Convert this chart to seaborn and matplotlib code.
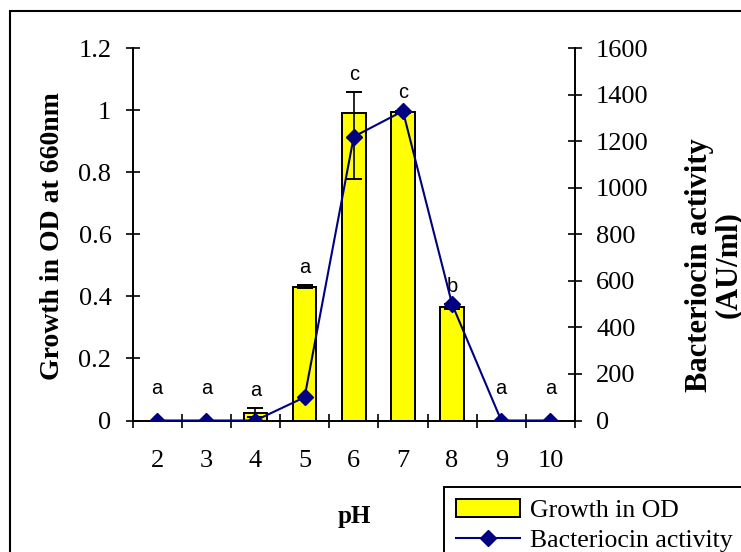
import matplotlib
matplotlib.use("Agg")
import matplotlib.pyplot as plt
from matplotlib.ticker import FixedLocator, FuncFormatter
from matplotlib.patches import Rectangle, Patch
from matplotlib.lines import Line2D
import seaborn as sns
import numpy as np
import pandas as pd

# pH series and measurements
ph = ["2", "3", "4", "5", "6", "7", "8", "9", "10"]
growth_od = [0, 0, 0.025, 0.431, 0.99, 0.995, 0.367, 0, 0]
growth_err_low = [0, 0, 0.015, 0.005, 0.21, 0.004, 0.008, 0, 0]
growth_err_high = [0, 0, 0.015, 0.005, 0.069, 0.004, 0.008, 0, 0]
activity = [0, 0, 0, 100, 1220, 1330, 500, 0, 0]
groups = ["a", "a", "a", "a", "c", "c", "b", "a", "a"]

od_ticks = [0, 0.2, 0.4, 0.6, 0.8, 1.0, 1.2]
act_ticks = [0, 200, 400, 600, 800, 1000, 1200, 1400, 1600]

serif = ["Liberation Serif", "DejaVu Serif"]
sans = ["Liberation Sans", "DejaVu Sans"]
plt.rcParams["font.family"] = serif

df = pd.DataFrame({"pH": ph, "od": growth_od, "activity": activity})

W, H = 741, 552
fig = plt.figure(figsize=(W / 100, H / 100), dpi=100)
fig.patch.set_facecolor("white")
ax = fig.add_axes([132.5 / W, 1 - 420.5 / H, 442.5 / W, 372.2 / H])

navy = "#000080"
yellow = "#FFFF00"

# Growth bars
sns.barplot(data=df, x="pH", y="od", color=yellow, saturation=1,
            edgecolor="black", linewidth=1.4, width=0.48, errorbar=None, ax=ax)

# Error bars on non-zero growth values
pos = np.arange(len(ph))
od_arr = np.array(growth_od)
mask = od_arr > 0
ax.errorbar(pos[mask], od_arr[mask],
            yerr=[np.array(growth_err_low)[mask], np.array(growth_err_high)[mask]],
            fmt="none", ecolor="black", elinewidth=1.2, capsize=6, capthick=1.4,
            zorder=3)

# Bacteriocin activity line on the secondary axis
ax2 = ax.twinx()
sns.pointplot(data=df, x="pH", y="activity", color=navy, markers="D",
              linestyles="-", errorbar=None, ax=ax2,
              markersize=8.5, linewidth=1.5, markeredgewidth=1)

# Axis limits and ticks
for a in (ax, ax2):
    a.set_xlim(-0.5, len(ph) - 0.5)
ax.set_ylim(0, 1.2)
ax2.set_ylim(0, 1600)

ax.set_xticks(pos)
ax.set_xticklabels(ph)
ax.xaxis.set_minor_locator(FixedLocator(np.arange(-0.5, len(ph), 1.0)))
ax.tick_params(axis="x", which="major", length=0, pad=21, labelsize=19)
ax.tick_params(axis="x", which="minor", direction="inout", length=9.4, width=1.2)

ax.set_yticks(od_ticks)
ax.yaxis.set_major_formatter(FuncFormatter(lambda v, _: f"{v:g}"))
ax.tick_params(axis="y", direction="inout", length=9.4, width=1.2, pad=10.5, labelsize=19)

ax2.set_yticks(act_ticks)
ax2.tick_params(axis="y", direction="inout", length=9.4, width=1.2, pad=10.5, labelsize=19)

ax.set_xlabel("")
ax.set_ylabel("")
ax2.set_xlabel("")
ax2.set_ylabel("")

for a in (ax, ax2):
    a.spines["top"].set_visible(False)
    for s in ("left", "right", "bottom"):
        a.spines[s].set_linewidth(1.4)
        a.spines[s].set_color("black")
ax.spines["right"].set_visible(False)
ax2.spines["left"].set_visible(False)
ax2.spines["bottom"].set_visible(False)

# Significance letters above each pH
tops = od_arr + np.array(growth_err_high)
for i, (t, g) in enumerate(zip(tops, groups)):
    off = 6 if od_arr[i] > 0 else 16
    ax.annotate(g, (i, t), xytext=(0, off), textcoords="offset points",
                ha="center", va="bottom", fontsize=14.5, family=sans,
                annotation_clip=False, zorder=5)

# Axis titles
fig.text(53 / W, 1 - 236 / H, "Growth in OD at 660nm", rotation=90,
         ha="center", va="center", fontsize=20, fontweight="bold")
fig.text(714 / W, 1 - 265 / H, "Bacteriocin activity\n(AU/ml)", rotation=90,
         ha="center", va="center", fontsize=22, fontweight="bold",
         linespacing=1.0, multialignment="center")
fig.text(354 / W, 1 - 516 / H, "pH", ha="center", va="center",
         fontsize=18, fontweight="bold")

# Legend
handles = [
    Patch(facecolor=yellow, edgecolor="black", linewidth=1.4),
    Line2D([], [], color=navy, linewidth=1.5, marker="D", markersize=8.5,
           markeredgewidth=1),
]
leg = fig.legend(handles, ["Growth in OD", "Bacteriocin activity"],
                 loc="upper left", bbox_to_anchor=(444 / W, 1 - 487 / H),
                 borderaxespad=0, fontsize=18.5, frameon=True, fancybox=False,
                 framealpha=1, edgecolor="black", handlelength=2.5,
                 handletextpad=0.4, borderpad=0.45, labelspacing=0.3)
leg.get_frame().set_linewidth(1.4)

# Chart border
fig.patches.append(Rectangle((10 / W, -0.2), 2.0, 1.2 - 11 / H,
                             transform=fig.transFigure, fill=False,
                             edgecolor="black", linewidth=1.5, clip_on=False))

fig.savefig("out.png", dpi=100, facecolor="white")
